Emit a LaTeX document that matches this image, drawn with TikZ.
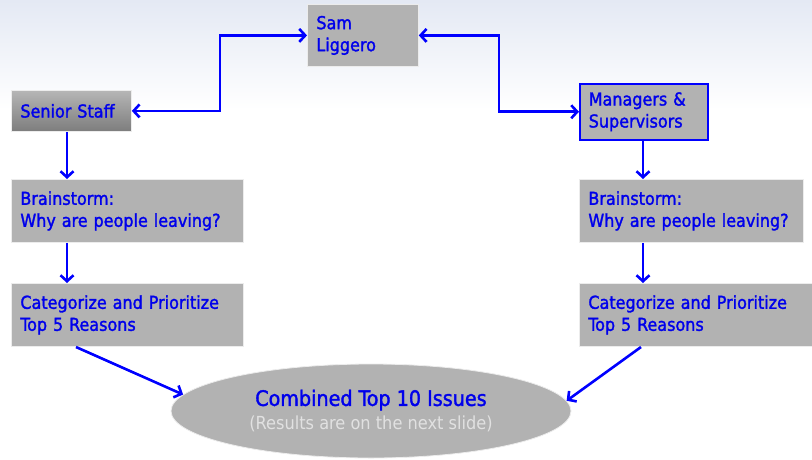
\documentclass[tikz,border=0pt]{standalone}
\usepackage{fontspec}
\setmainfont{DejaVu Sans Condensed}
\newfontfamily\heavy{DejaVu Sans Condensed}[FakeBold=1.6]
\usetikzlibrary{arrows.meta,shapes.geometric}
\definecolor{txtblue}{RGB}{0,0,235}
\definecolor{boxgray}{RGB}{178,178,178}
\definecolor{lnblue}{RGB}{0,0,255}
\definecolor{ssTop}{RGB}{182,182,182}
\definecolor{ssBot}{RGB}{125,125,125}
\definecolor{resgray}{RGB}{225,225,225}
\definecolor{bgtop}{RGB}{228,233,244}
\begin{document}
\begin{tikzpicture}[x=1pt,y=-1pt,
  box/.style={rectangle, fill=boxgray, draw=white!85!gray, line width=0.8pt, text=txtblue,
    align=left, inner xsep=9pt, inner ysep=0pt, anchor=north west,
    font=\heavy\fontsize{17.8}{22}\selectfont},
  conn/.style={draw=lnblue, line width=2.6pt, -{Straight Barb[length=6pt,width=13pt]}},
  dconn/.style={draw=lnblue, line width=2.6pt, {Straight Barb[length=6pt,width=13pt]}-{Straight Barb[length=6pt,width=13pt]}}]
\useasboundingbox (0,0) rectangle (812,459);
\clip (0,0) rectangle (812,459);
\fill[top color=bgtop, bottom color=white] (0,0) rectangle (812,110);

\node[box, minimum width=111pt, minimum height=62pt, text width=93pt] (sam) at (307,4) {Sam\\Liggero};
\node[box, top color=ssTop, bottom color=ssBot, minimum width=120pt, minimum height=41pt, text width=102pt] (senior) at (11,90) {Senior Staff};
\node[box, draw=lnblue, line width=1.5pt, minimum width=128pt, minimum height=56pt, text width=110pt] (mgr) at (579,83) {Managers \&\\Supervisors};
\node[box, minimum width=232pt, minimum height=63pt, text width=214pt] (brainL) at (11,179) {Brainstorm:\\Why are people leaving?};
\node[box, minimum width=224pt, minimum height=63pt, text width=206pt] (brainR) at (579,179) {Brainstorm:\\Why are people leaving?};
\node[box, minimum width=232pt, minimum height=63pt, text width=214pt] (catL) at (11,283) {Categorize and Prioritize\\Top 5 Reasons};
\node[box, minimum width=240pt, minimum height=63pt, text width=222pt] (catR) at (579,283) {Categorize and Prioritize\\Top 5 Reasons};

\node[ellipse, fill=boxgray, draw=white!85!gray, line width=0.8pt, minimum width=400pt, minimum height=94pt, align=center, inner sep=0pt, font=\fontsize{18}{24}\selectfont] (comb) at (371,411)
  {{\heavy\fontsize{21.3}{24}\selectfont\color{txtblue}Combined Top 10 Issues}\\{\color{resgray}(Results are on the next slide)}};

\coordinate (lx) at (67,0);
\coordinate (rx) at (643,0);
\coordinate (ld) at (76,347);
\coordinate (rd) at (641,347);

\draw[dconn] (senior.east) -- ([xshift=88pt]senior.east) |- (sam.west);
\draw[dconn] (sam.east) -- ([xshift=80pt]sam.east) |- (mgr.west);
\draw[conn] (lx |- senior.south) -- (lx |- brainL.north);
\draw[conn] (lx |- brainL.south) -- (lx |- catL.north);
\draw[conn] (rx |- mgr.south) -- (rx |- brainR.north);
\draw[conn] (rx |- brainR.south) -- (rx |- catR.north);
\draw[conn] (ld) -- (comb.175);
\draw[conn] (rd) -- (comb.3);
\end{tikzpicture}
\end{document}
